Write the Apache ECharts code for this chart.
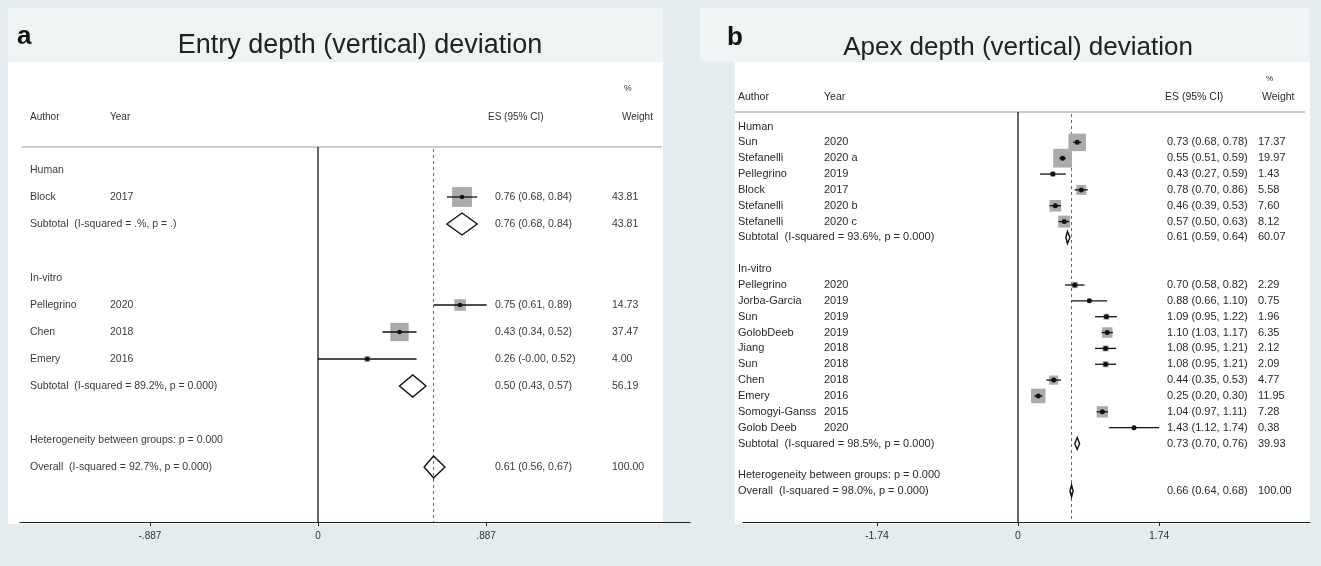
<!DOCTYPE html>
<html><head><meta charset="utf-8">
<script src="https://cdn.jsdelivr.net/npm/echarts@6.0.0/dist/echarts.min.js"></script>
<style>html,body{margin:0;padding:0;background:#e4ecef;} #c{width:1321px;height:566px;}</style>
</head><body><div id="c"></div>
<script>
// ---------- Panel a: Entry depth (vertical) deviation ----------
const aAuthor = ['Human', 'Block', 'Subtotal  (I-squared = .%, p = .)', '', 'In-vitro', 'Pellegrino', 'Chen', 'Emery', 'Subtotal  (I-squared = 89.2%, p = 0.000)', '', 'Heterogeneity between groups: p = 0.000', 'Overall  (I-squared = 92.7%, p = 0.000)'];
const aYear   = ['', '2017', '', '', '', '2020', '2018', '2016', '', '', '', ''];
const aType   = ['g', 's', 'd', '', 'g', 's', 's', 's', 'd', '', 'g', 'o'];
const aES     = [null, 0.76, 0.76, null, null, 0.75, 0.43, 0.26, 0.50, null, null, 0.61];
const aLo     = [null, 0.68, 0.68, null, null, 0.61, 0.34, -0, 0.43, null, null, 0.56];
const aHi     = [null, 0.84, 0.84, null, null, 0.89, 0.52, 0.52, 0.57, null, null, 0.67];
const aWeight = [null, 43.81, 43.81, null, null, 14.73, 37.47, 4.00, 56.19, null, null, 100.00];
const aTicks  = [-0.887, 0, 0.887];

// ---------- Panel b: Apex depth (vertical) deviation ----------
const bAuthor = ['Human', 'Sun', 'Stefanelli', 'Pellegrino', 'Block', 'Stefanelli', 'Stefanelli', 'Subtotal  (I-squared = 93.6%, p = 0.000)', '', 'In-vitro', 'Pellegrino', 'Jorba-Garcia', 'Sun', 'GolobDeeb', 'Jiang', 'Sun', 'Chen', 'Emery', 'Somogyi-Ganss', 'Golob Deeb', 'Subtotal  (I-squared = 98.5%, p = 0.000)', '', 'Heterogeneity between groups: p = 0.000', 'Overall  (I-squared = 98.0%, p = 0.000)'];
const bYear   = ['', '2020', '2020 a', '2019', '2017', '2020 b', '2020 c', '', '', '', '2020', '2019', '2019', '2019', '2018', '2018', '2018', '2016', '2015', '2020', '', '', '', ''];
const bType   = ['g', 's', 's', 's', 's', 's', 's', 'd', '', 'g', 's', 's', 's', 's', 's', 's', 's', 's', 's', 's', 'd', '', 'g', 'o'];
const bES     = [null, 0.73, 0.55, 0.43, 0.78, 0.46, 0.57, 0.61, null, null, 0.70, 0.88, 1.09, 1.10, 1.08, 1.08, 0.44, 0.25, 1.04, 1.43, 0.73, null, null, 0.66];
const bLo     = [null, 0.68, 0.51, 0.27, 0.70, 0.39, 0.50, 0.59, null, null, 0.58, 0.66, 0.95, 1.03, 0.95, 0.95, 0.35, 0.20, 0.97, 1.12, 0.70, null, null, 0.64];
const bHi     = [null, 0.78, 0.59, 0.59, 0.86, 0.53, 0.63, 0.64, null, null, 0.82, 1.10, 1.22, 1.17, 1.21, 1.21, 0.53, 0.30, 1.11, 1.74, 0.76, null, null, 0.68];
const bWeight = [null, 17.37, 19.97, 1.43, 5.58, 7.60, 8.12, 60.07, null, null, 2.29, 0.75, 1.96, 6.35, 2.12, 2.09, 4.77, 11.95, 7.28, 0.38, 39.93, null, null, 100.00];
const bTicks  = [-1.74, 0, 1.74];

// ---------- layout (pixels / styling only) ----------
const FONT = '"Liberation Sans", Arial, Helvetica, sans-serif';
const LA = {left: 20, right: 690, zeroX: 318, ppu: 189.5, top: 147, bottom: 522, row0: 170, rowH: 27,
  colAuthor: 30, colYear: 110, colES: 495, colW: 612, fs: 10.5, tfs: 10, color: '#3a3a3a', boxK: 3.0, dH: 22, dot: 2.3, hdrL: 22, hdrR: 662};
const LB = {left: 743, right: 1310, zeroX: 1018, ppu: 81.1, top: 112, bottom: 522, row0: 126.5, rowH: 15.85,
  colAuthor: 738, colYear: 824, colES: 1167, colW: 1258, fs: 11, tfs: 10.5, color: '#2a2a2a', boxK: 4.2, dH: 12, dot: 2.5, hdrL: 735, hdrR: 1305};

function fmt(v) { return ((v < 0 || Object.is(v, -0)) ? '-' : '') + Math.abs(v).toFixed(2); }
function tickFmt(v) {
  if (v === 0) return '0';
  const s = String(Math.abs(v)).replace(/^0\./, '.');
  return (v < 0 ? '-' : '') + s;
}

function panel(D, L) {
  const textStyle = (x, y, t) => ({type: 'text', silent: true,
    style: {x: x, y: y, text: t, font: L.fs + 'px ' + FONT, fill: L.color,
      verticalAlign: 'middle', textVerticalAlign: 'middle', align: 'left', textAlign: 'left'}});
  const rows = D.author.map((_, i) => [i]);
  const ovIdx = D.type.indexOf('o');
  const frame = {
    type: 'custom', xAxisIndex: D.idx, yAxisIndex: D.idx, clip: false, silent: true, z: 1,
    data: [[0]],
    renderItem: function (params, api) {
      const cs = params.coordSys;
      const x0 = api.coord([0, 0])[0];
      const xo = api.coord([D.es[ovIdx], 0])[0];
      return {type: 'group', children: [
        {type: 'line', shape: {x1: L.hdrL, y1: cs.y, x2: L.hdrR, y2: cs.y}, style: {stroke: '#9a9a9a', lineWidth: 1}},
        {type: 'line', shape: {x1: x0, y1: cs.y, x2: x0, y2: cs.y + cs.height}, style: {stroke: '#111', lineWidth: 1.3}},
        {type: 'line', shape: {x1: xo, y1: cs.y + 2, x2: xo, y2: cs.y + cs.height}, style: {stroke: '#666', lineWidth: 1, lineDash: [3, 3]}}
      ]};
    }
  };
  const marks = {
    type: 'custom', xAxisIndex: D.idx, yAxisIndex: D.idx, clip: false, silent: true, z: 3,
    data: rows,
    renderItem: function (params, api) {
      const i = api.value(0);
      const y = api.coord([0, i])[1];
      const ch = [];
      if (D.author[i]) ch.push(textStyle(L.colAuthor, y, D.author[i]));
      if (D.year[i]) ch.push(textStyle(L.colYear, y, D.year[i]));
      const t = D.type[i];
      if (t === 's' || t === 'd' || t === 'o') {
        ch.push(textStyle(L.colES, y, fmt(D.es[i]) + ' (' + fmt(D.lo[i]) + ', ' + fmt(D.hi[i]) + ')'));
        ch.push(textStyle(L.colW, y, D.w[i].toFixed(2)));
        const cx = api.coord([D.es[i], i])[0];
        const lx = api.coord([D.lo[i], i])[0];
        const hx = api.coord([D.hi[i], i])[0];
        if (t === 's') {
          const side = L.boxK * Math.sqrt(D.w[i]);
          ch.push({type: 'rect', shape: {x: cx - side / 2, y: y - side / 2, width: side, height: side}, style: {fill: '#ababab'}});
          ch.push({type: 'line', shape: {x1: lx, y1: y, x2: hx, y2: y}, style: {stroke: '#111', lineWidth: 1.3}});
          ch.push({type: 'circle', shape: {cx: cx, cy: y, r: L.dot}, style: {fill: '#111'}});
        } else {
          const h = L.dH / 2;
          ch.push({type: 'polygon', shape: {points: [[lx, y], [cx, y - h], [hx, y], [cx, y + h]]},
            style: {fill: 'none', stroke: '#111', lineWidth: 1.4}});
        }
      }
      return {type: 'group', children: ch};
    }
  };
  return [frame, marks];
}

const A = {idx: 0, author: aAuthor, year: aYear, type: aType, es: aES, lo: aLo, hi: aHi, w: aWeight};
const B = {idx: 1, author: bAuthor, year: bYear, type: bType, es: bES, lo: bLo, hi: bHi, w: bWeight};

function xAxisFor(L, idx, ticks) {
  return {
    type: 'value', gridIndex: idx,
    min: (L.left - L.zeroX) / L.ppu, max: (L.right - L.zeroX) / L.ppu,
    splitLine: {show: false},
    axisLine: {show: true, onZero: false, lineStyle: {color: '#222', width: 1.2}},
    axisTick: {show: true, length: 4, customValues: ticks, lineStyle: {color: '#222'}},
    axisLabel: {show: true, customValues: ticks, formatter: tickFmt, color: '#333', fontSize: L.tfs, fontFamily: FONT, margin: 9}
  };
}
function yAxisFor(L, idx) {
  return {type: 'value', gridIndex: idx, inverse: true, show: false,
    min: (L.top - L.row0) / L.rowH, max: (L.bottom - L.row0) / L.rowH};
}
function hdr(x, y, t, size, color) {
  return {type: 'text', x: x, y: y, silent: true,
    style: {text: t, font: size + 'px ' + FONT, fill: color || '#333', verticalAlign: 'middle', textVerticalAlign: 'middle'}};
}

const chart = echarts.init(document.getElementById('c'), null, {renderer: 'canvas'});
chart.setOption({
  animation: false,
  backgroundColor: '#e4ecef',
  grid: [
    {left: LA.left, top: LA.top, width: LA.right - LA.left, height: LA.bottom - LA.top, show: false},
    {left: LB.left, top: LB.top, width: LB.right - LB.left, height: LB.bottom - LB.top, show: false}
  ],
  xAxis: [xAxisFor(LA, 0, aTicks), xAxisFor(LB, 1, bTicks)],
  yAxis: [yAxisFor(LA, 0), yAxisFor(LB, 1)],
  graphic: [
    {type: 'rect', z: -10, silent: true, shape: {x: 8, y: 8, width: 655, height: 54}, style: {fill: '#eff3f4'}},
    {type: 'rect', z: -10, silent: true, shape: {x: 8, y: 62, width: 655, height: 462}, style: {fill: '#ffffff'}},
    {type: 'rect', z: -10, silent: true, shape: {x: 700, y: 8, width: 610, height: 54}, style: {fill: '#eff3f4'}},
    {type: 'rect', z: -10, silent: true, shape: {x: 735, y: 62, width: 575, height: 462}, style: {fill: '#ffffff'}},
    {type: 'text', x: 17, y: 37, silent: true, style: {text: 'a', font: 'bold 26px ' + FONT, fill: '#111', verticalAlign: 'middle', textVerticalAlign: 'middle'}},
    {type: 'text', x: 727, y: 38, silent: true, style: {text: 'b', font: 'bold 26px ' + FONT, fill: '#111', verticalAlign: 'middle', textVerticalAlign: 'middle'}},
    {type: 'text', x: 360, y: 46, silent: true, style: {text: 'Entry depth (vertical) deviation', font: '27px ' + FONT, fill: '#222', align: 'center', textAlign: 'center', verticalAlign: 'middle', textVerticalAlign: 'middle'}},
    {type: 'text', x: 1018, y: 48, silent: true, style: {text: 'Apex depth (vertical) deviation', font: '26px ' + FONT, fill: '#222', align: 'center', textAlign: 'center', verticalAlign: 'middle', textVerticalAlign: 'middle'}},
    hdr(LA.colAuthor, 117, 'Author', LA.fs - 0.5),
    hdr(LA.colYear, 117, 'Year', LA.fs - 0.5),
    hdr(488, 117, 'ES (95% CI)', LA.fs - 0.5),
    hdr(624, 89, '%', LA.fs - 2),
    hdr(622, 117, 'Weight', LA.fs - 0.5),
    hdr(LB.colAuthor, 97, 'Author', LB.fs - 0.5, '#2a2a2a'),
    hdr(LB.colYear, 97, 'Year', LB.fs - 0.5, '#2a2a2a'),
    hdr(1165, 97, 'ES (95% CI)', LB.fs - 0.5, '#2a2a2a'),
    hdr(1266, 79, '%', LB.fs - 3, '#2a2a2a'),
    hdr(1262, 97, 'Weight', LB.fs - 0.5, '#2a2a2a')
  ],
  series: panel(A, LA).concat(panel(B, LB))
});
</script>
</body></html>
